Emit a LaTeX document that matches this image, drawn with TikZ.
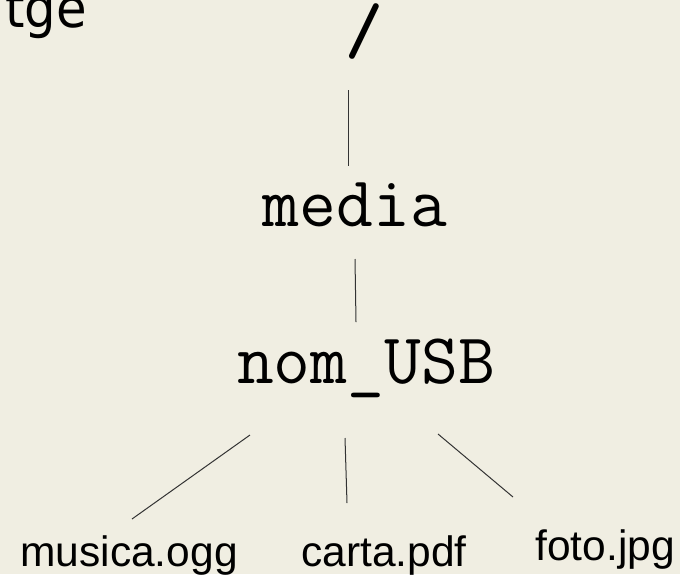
\documentclass[tikz,border=0pt]{standalone}
\usepackage{fontspec}
\newfontfamily\sansfnt{Liberation Sans}
\newfontfamily\geofnt{DejaVu Sans}
\definecolor{bgcol}{RGB}{240,238,226}
\tikzset{
  dirname/.style={anchor=base,inner sep=0pt,font=\ttfamily\fontsize{71.5}{71.5}\selectfont},
  filename/.style={anchor=base,inner sep=0pt,font=\sansfnt\fontsize{42.5}{42.5}\selectfont},
  link/.style={line width=1pt,black!80}
}
\begin{document}
\begin{tikzpicture}[x=1pt,y=-1pt]
\fill[bgcol] (0,0) rectangle (680,574);
\useasboundingbox (0,0) rectangle (680,574);
\node[anchor=base east,inner sep=0pt,font=\geofnt\fontsize{54}{54}\selectfont] (title) at (87,27) {\scalebox{0.92}[1]{tge}};
\node[dirname,font=\ttfamily\bfseries\fontsize{72}{72}\selectfont] (root) at (364,53) {/};
\node[dirname] (media) at (355,226) {media};
\node[dirname] (usb) at (366,383) {nom\_USB};
\node[filename] (musica) at (129,566) {musica.ogg};
\node[filename] (carta) at (384,566) {carta.pdf};
\node[filename] (foto) at (605,560) {foto.jpg};
\coordinate (r1) at (348,90);
\coordinate (m1) at (348,166);
\coordinate (m2) at (355,259);
\coordinate (u1) at (356,322);
\coordinate (u2) at (250,435);
\coordinate (f1) at (132,519);
\coordinate (u3) at (345,438);
\coordinate (f2) at (347,503);
\coordinate (u4) at (438,434);
\coordinate (f3) at (513,497);
\draw[link] (r1) -- (m1);
\draw[link] (m2) -- (u1);
\draw[link] (u2) -- (f1);
\draw[link] (u3) -- (f2);
\draw[link] (u4) -- (f3);
\end{tikzpicture}
\end{document}
